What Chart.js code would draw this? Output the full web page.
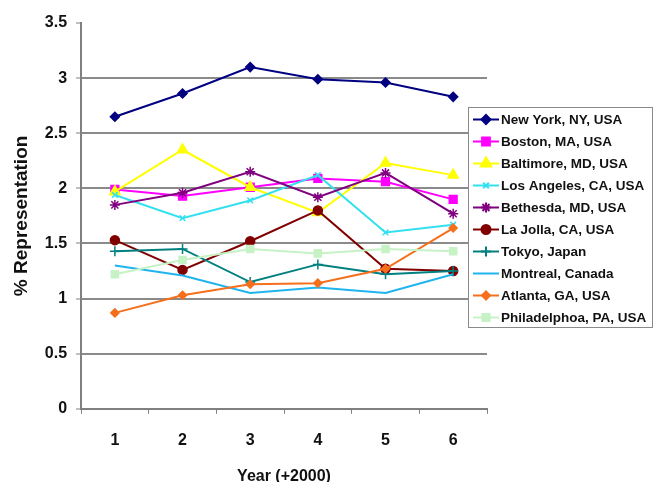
<!DOCTYPE html>
<html>
<head>
<meta charset="utf-8">
<script src="https://cdn.jsdelivr.net/npm/chart.js@4.4.0/dist/chart.umd.min.js"></script>
<style>
  html, body { margin: 0; padding: 0; background: #fff; }
  #wrap { width: 656px; height: 482px; }
</style>
</head>
<body>
<div id="wrap"><canvas id="chart" width="656" height="482"></canvas></div>
<script>
// years since 2000
const years = ['1', '2', '3', '4', '5', '6'];

const cities = [
  'New York, NY, USA', 'Boston, MA, USA', 'Baltimore, MD, USA', 'Los Angeles, CA, USA',
  'Bethesda, MD, USA', 'La Jolla, CA, USA', 'Tokyo, Japan', 'Montreal, Canada',
  'Atlanta, GA, USA', 'Philadelphoa, PA, USA'
];

// % representation per city
const newYork      = [2.65, 2.86, 3.10, 2.99, 2.96, 2.83];
const boston       = [1.99, 1.93, 2.01, 2.09, 2.06, 1.90];
const baltimore    = [1.97, 2.35, 2.01, 1.78, 2.23, 2.12];
const losAngeles   = [1.94, 1.73, 1.89, 2.12, 1.60, 1.67];
const bethesda     = [1.85, 1.96, 2.15, 1.92, 2.14, 1.77];
const laJolla      = [1.53, 1.26, 1.52, 1.80, 1.27, 1.25];
const tokyo        = [1.43, 1.45, 1.15, 1.31, 1.22, 1.25];
const montreal     = [1.30, 1.21, 1.05, 1.10, 1.05, 1.22];
const atlanta      = [0.87, 1.03, 1.13, 1.14, 1.27, 1.64];
const philadelphia = [1.22, 1.35, 1.45, 1.41, 1.45, 1.43];

const yTicks = [0, 0.5, 1, 1.5, 2, 2.5, 3, 3.5];

const seriesValues = [newYork, boston, baltimore, losAngeles, bethesda, laJolla, tokyo, montreal, atlanta, philadelphia];
const colors  = ['#000080', '#ff00ff', '#ffff00', '#33e0f0', '#800080', '#800000', '#008080', '#20b4ee', '#f56f1c', '#c6f2c6'];
const markers = ['rectRot', 'rect', 'triangle', 'crossRot', 'star', 'circle', 'cross', false, 'rectRot', 'rect'];
const radii   = [4.5, 5.5, 6, 4, 5, 4.5, 5, 0, 4, 5];

const datasets = seriesValues.map((vals, i) => ({
  label: cities[i],
  data: vals,
  borderColor: colors[i],
  backgroundColor: colors[i],
  borderWidth: 2,
  pointStyle: markers[i],
  pointRadius: radii[i],
  pointBorderWidth: 1.5,
  tension: 0,
  order: cities.length - i // later series drawn on top, like the original
}));

// legend box drawn over the plot, like the original
const boxLegend = {
  id: 'boxLegend',
  afterDraw(chart) {
    const ctx = chart.ctx;
    const x0 = 468.5, y0 = 107.5, w = 184, h = 220, row = 22;
    ctx.save();
    ctx.fillStyle = '#fff';
    ctx.fillRect(x0, y0, w, h);
    ctx.strokeStyle = '#8a8a8a';
    ctx.lineWidth = 1;
    ctx.strokeRect(x0, y0, w, h);
    ctx.font = 'bold 13.5px "Liberation Sans", Arial, sans-serif';
    ctx.textBaseline = 'middle';
    chart.data.datasets.forEach((ds, i) => {
      const cy = y0 + 12 + i * row;
      ctx.strokeStyle = ds.borderColor;
      ctx.fillStyle = ds.backgroundColor;
      ctx.lineWidth = 2;
      ctx.beginPath();
      ctx.moveTo(473, cy);
      ctx.lineTo(499, cy);
      ctx.stroke();
      if (ds.pointStyle) {
        Chart.helpers.drawPoint(ctx, {
          pointStyle: ds.pointStyle, radius: ds.pointRadius, rotation: 0, borderWidth: 1.5
        }, 486, cy);
      }
      ctx.fillStyle = '#111';
      ctx.fillText(ds.label, 501, cy + 1);
    });
    ctx.restore();
  }
};

new Chart(document.getElementById('chart'), {
  type: 'line',
  data: { labels: years, datasets: datasets },
  plugins: [boxLegend],
  options: {
    responsive: false,
    animation: false,
    layout: { padding: { top: 23, right: 169, bottom: -3, left: 10 } },
    plugins: { legend: { display: false }, tooltip: { enabled: false } },
    scales: {
      x: {
        offset: true,
        grid: { offset: true, drawOnChartArea: false, tickLength: 5, color: '#808080', tickColor: '#808080' },
        border: { color: '#808080', width: 2 },
        ticks: { color: '#111', padding: 17, font: { family: '"Liberation Sans", Arial', size: 16, weight: 'bold' } },
        title: {
          display: true, text: 'Year (+2000)', color: '#111',
          padding: { top: 2, bottom: 0 },
          font: { family: '"Liberation Sans", Arial', size: 16, weight: 'bold', lineHeight: 1 }
        }
      },
      y: {
        min: 0, max: 3.5,
        afterBuildTicks(scale) { scale.ticks = yTicks.map(v => ({ value: v })); },
        grid: {
          tickLength: 5, lineWidth: 2, tickWidth: 1,
          color: ctx => (ctx.tick && ctx.tick.value === 3.5) ? 'rgba(0,0,0,0)' : '#8a8a8a',
          tickColor: '#808080'
        },
        border: { color: '#808080', width: 2 },
        ticks: {
          color: '#111', padding: 9,
          callback: v => String(v),
          font: { family: '"Liberation Sans", Arial', size: 16, weight: 'bold' }
        },
        title: {
          display: true, text: '% Representation', color: '#111',
          padding: { top: 0, bottom: 3 },
          font: { family: '"Liberation Sans", Arial', size: 19, weight: 'bold' }
        }
      }
    }
  }
});
</script>
</body>
</html>
